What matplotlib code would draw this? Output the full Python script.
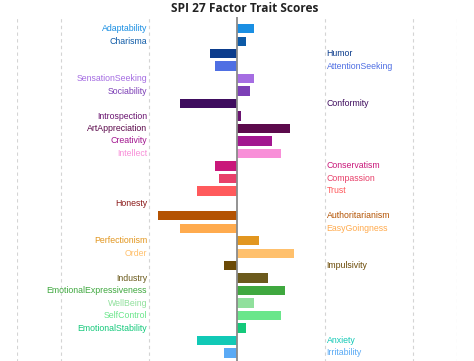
import matplotlib
matplotlib.use("Agg")
import matplotlib.pyplot as plt

traits = ["Adaptability", "Charisma", "Humor", "AttentionSeeking", "SensationSeeking",
          "Sociability", "Conformity", "Introspection", "ArtAppreciation", "Creativity",
          "Intellect", "Conservatism", "Compassion", "Trust", "Honesty",
          "Authoritarianism", "EasyGoingness", "Perfectionism", "Order", "Impulsivity",
          "Industry", "EmotionalExpressiveness", "WellBeing", "SelfControl",
          "EmotionalStability", "Anxiety", "Irritability"]
scores = [0.2, 0.1, -0.3, -0.25, 0.2,
          0.15, -0.65, 0.05, 0.6, 0.4,
          0.5, -0.25, -0.2, -0.45, 0.0,
          -0.9, -0.65, 0.25, 0.65, -0.15,
          0.35, 0.55, 0.2, 0.5,
          0.1, -0.45, -0.15]
colors = ["#1a8fe3", "#0d5aa7", "#0b3c8c", "#4f6fe3", "#a56de2",
          "#7c3fb6", "#3f0d5f", "#6a1470", "#5c0a4c", "#a2168f",
          "#f88fd8", "#c9187a", "#e8406a", "#ff5a5c", "#8c1b1b",
          "#b45302", "#ffab4e", "#e2961f", "#ffc06c", "#6b4a06",
          "#6b5a1c", "#3fa83f", "#90e09c", "#6ae68b",
          "#14c97b", "#11c9b6", "#5aaaf5"]
title = "SPI 27 Factor Trait Scores"

fig = plt.figure(figsize=(4.74, 3.61), dpi=100)
ax = fig.add_axes([16.7 / 474, -0.0102, (457 - 16.7) / 474, 0.9529 + 0.0102])

n = len(traits)
ypos = list(range(n))
ax.barh(ypos, scores, height=0.75, color=colors, zorder=2)
ax.set_xlim(-2.5, 2.5)
ax.set_ylim(n - 1 + 0.94, -0.94)

for gx in [-2.5, -2, -1, 1, 2, 2.5]:
    ax.axvline(gx, color="#d4d4d4", lw=0.8, ls=(0, (3, 3)), zorder=0)
ax.axvline(0, color="#8a8a8a", lw=1.3, zorder=3)

for y, t, v, c in zip(ypos, traits, scores, colors):
    if v >= 0:
        ax.text(-1.02, y, t, ha="right", va="center", color=c, fontsize=6.3,
                family="Liberation Sans")
    else:
        ax.text(1.02, y, t, ha="left", va="center", color=c, fontsize=6.3,
                family="Liberation Sans")

for s in ax.spines.values():
    s.set_visible(False)
ax.set_xticks([])
ax.set_yticks([])

fig.text(245 / 474, 0.995, title, ha="center", va="top", fontsize=8.6,
         fontweight="bold", family="Open Sans", color="#222222")

fig.savefig("out.png", dpi=100)
